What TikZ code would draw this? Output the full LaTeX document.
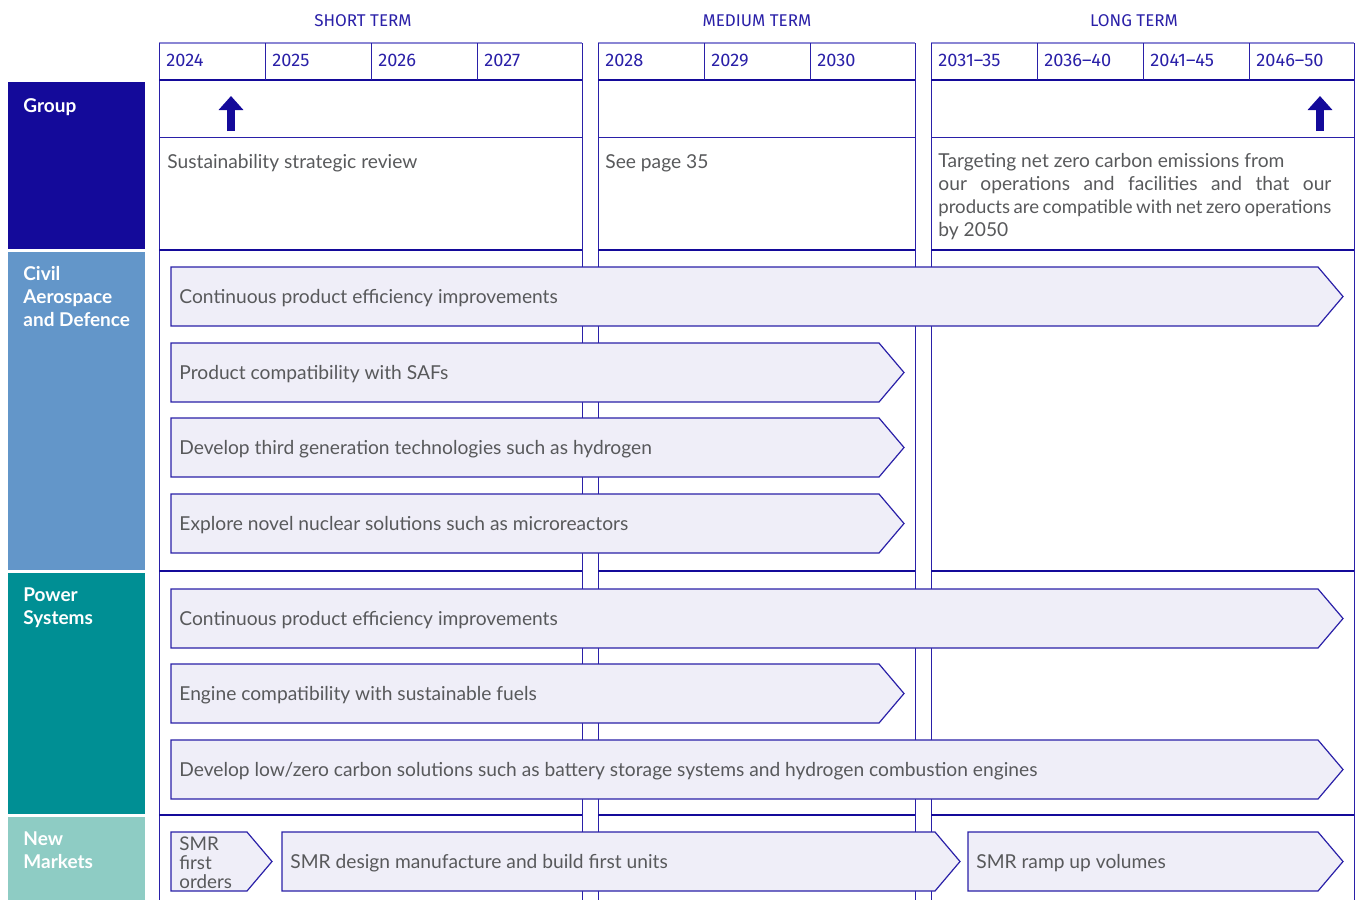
\documentclass[tikz,border=0pt]{standalone}
\usepackage{fontspec}
\setmainfont{Lato}
\newfontfamily\headfont{Fira Sans}
\usetikzlibrary{arrows.meta}
\definecolor{rrblue}{HTML}{140A9A}
\definecolor{rrline}{HTML}{2A20A8}
\definecolor{rrlight}{HTML}{8A86D4}
\definecolor{rrfill}{HTML}{EFEEF8}
\definecolor{rrgrey}{HTML}{58595B}
\definecolor{civilblue}{HTML}{6396C9}
\definecolor{powerteal}{HTML}{008F94}
\definecolor{newmint}{HTML}{8ECCC4}

% bar with pointed end: name, x start, x tip, y top, y bottom, text
\newcommand\roadbar[6]{%
  \draw[barline] (#2,#4) -- (#3-25,#4) -- (#3,{(#4+#5)/2}) -- (#3-25,#5) -- (#2,#5) -- cycle;
  \node[bartext] (#1) at (#2+8,{(#4+#5)/2+2}) {#6};}

\begin{document}
\begin{tikzpicture}[
    x=0.5pt, y=-0.5pt,
    barline/.style={draw=rrline, fill=rrfill, line width=0.6pt},
    bartext/.style={anchor=west, inner sep=0pt, text=rrgrey, font=\fontsize{9.6}{11}\selectfont},
    termtext/.style={text=rrline, font=\headfont\fontsize{8.5}{10}\selectfont},
    yeartext/.style={anchor=base west, inner sep=0pt, text=rrline, font=\headfont\fontsize{9.1}{10}\selectfont},
    sidetext/.style={anchor=north west, inner sep=0pt, text=white, align=left,
      font=\bfseries\fontsize{9.5}{11.5}\selectfont},
    grouptext/.style={anchor=west, inner sep=0pt, text=rrgrey, font=\fontsize{9.6}{11.5}\selectfont},
    thickrule/.style={draw=rrblue, line width=1.4pt},
    thinrule/.style={draw=rrline, line width=0.5pt},
    uparrow/.style={draw=rrblue, line width=4pt, -{Triangle[width=12pt,length=7pt]}},
  ]
  \useasboundingbox (0,0) rectangle (1359,900);

  % side labels
  \fill[rrblue] (8,82) rectangle (145,249);
  \fill[civilblue] (8,252) rectangle (145,570);
  \fill[powerteal] (8,573) rectangle (145,814);
  \fill[newmint] (8,817) rectangle (145,900);
  \node[sidetext] (grp) at (23,98) {Group};
  \node[sidetext] (civ) at (23,266) {Civil\\Aerospace\\and Defence};
  \node[sidetext] (pow) at (23,587) {Power\\Systems};
  \node[sidetext] (nmk) at (23,831) {New\\Markets};

  % term panels
  \foreach \xa/\xb in {159/582, 598/915, 931/1354} {
    \fill[white] (\xa,43) rectangle (\xb,80);
    \draw[rrlight, line width=0.8pt] (\xa,43) -- (\xb,43);
    \draw[thinrule] (\xa,43) -- (\xa,900);
    \draw[thinrule] (\xb,43) -- (\xb,900);
    \draw[thinrule] (\xa,137) -- (\xb,137);
    \foreach \yy in {80, 250, 571, 815}
      \draw[thickrule] (\xa,\yy) -- (\xb,\yy);
  }
  \foreach \xc in {265, 371, 477, 704, 810, 1037, 1143, 1249}
    \draw[thinrule] (\xc,43) -- (\xc,80);

  % headings
  \node[termtext] (shortT) at (363,21) {SHORT TERM};
  \node[termtext] (mediumT) at (757,21) {MEDIUM TERM};
  \node[termtext] (longT) at (1134,21) {LONG TERM};
  \foreach \xc/\yr [count=\i] in {159/2024, 265/2025, 371/2026, 477/2027, 598/2028, 704/2029,
      810/2030, 931/2031\textendash35, 1037/2036\textendash40, 1143/2041\textendash45,
      1249/2046\textendash50}
    \node[yeartext] (yr\i) at (\xc+7,66) {\yr};

  % group row
  \coordinate (arrA) at (231,131);
  \coordinate (arrB) at (1320,131);
  \draw[uparrow] (arrA) -- ++(0,-35);
  \draw[uparrow] (arrB) -- ++(0,-35);
  \node[grouptext] (grpS) at (167,163) {Sustainability strategic review};
  \node[grouptext] (grpM) at (605,163) {See page 35};
  \node[anchor=north west, inner sep=0pt, text=rrgrey, align=left,
    font=\fontsize{9.6}{11.5}\selectfont] (grpL) at (938,153)
    {Targeting net zero carbon emissions from\\
     \makebox[196.5pt][s]{our operations and facilities and that our}\\
     \makebox[196.5pt][s]{\fontsize{9.3}{11.5}\selectfont\spaceskip=0.2em plus 1em minus 0.1em products are compatible with net zero operations}\\
     by 2050};

  % civil aerospace and defence
  \roadbar{c1}{171}{1343}{267}{326}{Continuous product efficiency improvements}
  \roadbar{c2}{171}{904}{343}{402}{Product compatibility with SAFs}
  \roadbar{c3}{171}{904}{418}{477}{Develop third generation technologies such as hydrogen}
  \roadbar{c4}{171}{904}{494}{553}{Explore novel nuclear solutions such as microreactors}

  % power systems
  \roadbar{p1}{171}{1343}{589}{648}{Continuous product efficiency improvements}
  \roadbar{p2}{171}{904}{664}{723}{Engine compatibility with sustainable fuels}
  \roadbar{p3}{171}{1343}{740}{799}{Develop low/zero carbon solutions such as battery storage systems and hydrogen combustion engines}

  % new markets
  \draw[barline] (171,832) -- (247,832) -- (272,861.5) -- (247,891) -- (171,891) -- cycle;
  \node[anchor=west, inner sep=0pt, text=rrgrey, align=left,
    font=\fontsize{9.4}{9.5}\selectfont] (n1) at (179,862.5) {SMR\\first\\orders};
  \roadbar{n2}{282}{960}{832}{891}{SMR design manufacture and build first units}
  \roadbar{n3}{968}{1343}{832}{891}{SMR ramp up volumes}
\end{tikzpicture}
\end{document}
